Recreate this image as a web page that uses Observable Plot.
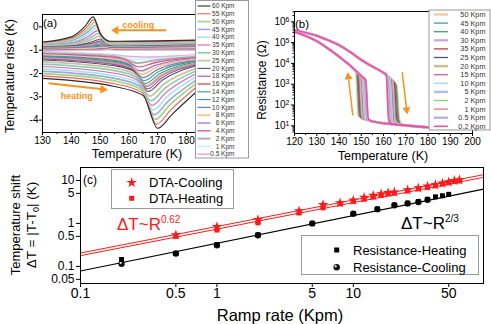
<!DOCTYPE html>
<html>
<head>
<meta charset="utf-8">
<script src="https://cdn.jsdelivr.net/npm/d3@7"></script>
<script src="https://cdn.jsdelivr.net/npm/@observablehq/plot@0.6"></script>
<style>
html,body{margin:0;padding:0;background:#fff;}
#fig{position:relative;width:491px;height:324px;overflow:hidden;background:#fff;color:#000;}
.p{position:absolute;}
</style>
</head>
<body>
<div id="fig"></div>
<script>
// ================= DATA =================
// ---- Panel (a): DTA temperature rise (K) vs temperature (K) ----
const ratesA = [60,55,50,45,40,35,30,25,20,18,16,14,12,10,8,6,4,2,1,0.5];
const colorsA = ["#2b2b2b","#f06060","#a8d88a","#a0a8e0","#a8e4ec","#d860c0","#90d0b0","#c8c4a0","#505070","#a050a0","#c89898","#30a070","#309898","#6f7fc8","#f8c890","#9878c8","#e05088","#b0b0b0","#c8f0f8","#e0b0e0"];
const widthsA = [1.1,1.1,1.8,1.6,1.6,1.1,1.8,1.8,1.1,1.1,2.2,1.1,1.1,1.3,2,1.3,1.3,2,1.6,1.6];
// heating branch: value at 130 K, at 155 K, 5 K before the dip minimum, dip minimum T and value, 5 K after, at 183.5 K
const heat130  = [-2.21,-2.10,-2.00,-1.90,-1.80,-1.70,-1.60,-1.50,-1.42,-1.38,-1.34,-1.31,-1.28,-1.25,-1.22,-1.19,-1.16,-1.13,-1.11,-1.09];
const heat155  = [-2.56,-2.44,-2.32,-2.21,-2.10,-1.99,-1.88,-1.77,-1.67,-1.62,-1.57,-1.53,-1.48,-1.44,-1.39,-1.35,-1.31,-1.26,-1.23,-1.20];
const heatOnV  = [-2.95,-2.82,-2.68,-2.55,-2.42,-2.29,-2.16,-2.03,-1.90,-1.84,-1.78,-1.72,-1.66,-1.60,-1.54,-1.48,-1.42,-1.36,-1.30,-1.24];
const heatMinT = [170.0,169.6,169.2,168.8,168.4,168.0,167.6,167.2,166.7,166.4,166.1,165.7,165.3,164.9,164.5,164.1,163.6,163.1,162.7,162.3];
const heatMinV = [-4.35,-4.17,-3.97,-3.77,-3.57,-3.37,-3.17,-2.97,-2.77,-2.66,-2.55,-2.43,-2.31,-2.18,-2.04,-1.89,-1.72,-1.55,-1.40,-1.28];
const heatRecV = [-3.75,-3.55,-3.35,-3.17,-2.98,-2.80,-2.62,-2.45,-2.28,-2.19,-2.10,-2.01,-1.92,-1.83,-1.74,-1.65,-1.55,-1.45,-1.37,-1.29];
const heatEnd  = [-2.78,-2.58,-2.42,-2.27,-2.13,-2.00,-1.88,-1.77,-1.67,-1.62,-1.57,-1.52,-1.48,-1.44,-1.40,-1.36,-1.32,-1.28,-1.24,-1.20];
// cooling branch: value at 130 K, 140 K, 3 K below peak, peak T and value, 2.5 K above, 6 K above, at 183.5 K
const cool130  = [-0.65,-0.67,-0.69,-0.71,-0.73,-0.75,-0.77,-0.79,-0.81,-0.83,-0.85,-0.87,-0.89,-0.91,-0.93,-0.95,-0.97,-0.99,-1.01,-1.03];
const cool140  = [-0.43,-0.48,-0.53,-0.58,-0.63,-0.67,-0.71,-0.75,-0.79,-0.81,-0.83,-0.85,-0.87,-0.89,-0.91,-0.93,-0.95,-0.97,-0.99,-1.01];
const coolShV  = [0.00,-0.08,-0.16,-0.24,-0.32,-0.40,-0.48,-0.56,-0.64,-0.69,-0.73,-0.77,-0.81,-0.85,-0.88,-0.91,-0.94,-0.96,-0.98,-1.00];
const coolPkT  = [147.6,147.9,148.2,148.5,148.8,149.1,149.5,149.9,150.3,150.5,150.7,150.9,151.1,151.3,151.6,151.9,152.2,152.5,152.8,153.0];
const coolPkV  = [0.43,0.31,0.19,0.07,-0.04,-0.16,-0.28,-0.40,-0.52,-0.60,-0.66,-0.72,-0.77,-0.81,-0.85,-0.88,-0.91,-0.93,-0.95,-0.97];
const coolFall = [-0.30,-0.36,-0.42,-0.48,-0.54,-0.60,-0.66,-0.71,-0.76,-0.79,-0.82,-0.84,-0.86,-0.88,-0.90,-0.92,-0.94,-0.96,-0.98,-1.00];
const coolBase = [-0.62,-0.64,-0.66,-0.68,-0.70,-0.72,-0.74,-0.76,-0.78,-0.80,-0.82,-0.84,-0.86,-0.88,-0.90,-0.92,-0.94,-0.96,-0.98,-1.00];
const coolEnd  = [-0.57,-0.59,-0.61,-0.63,-0.65,-0.67,-0.69,-0.71,-0.73,-0.75,-0.77,-0.79,-0.81,-0.84,-0.87,-0.90,-0.93,-0.96,-0.98,-1.00];
const xTicksA = [130,140,150,160,170,180];
const xMinorA = [135,145,155,165,175];
const yTicksA = [-4,-3,-2,-1,0];

// ---- Panel (b): resistance (log10 ohm) vs temperature ----
const ratesB = [50,45,40,30,35,25,20,15,10,5,2,1,0.5,0.2];
const colorsB = ["#f8c49a","#30a8a0","#40a070","#c8a8d8","#b84050","#505088","#c8c098","#d060b8","#a8e0e8","#b0c0e8","#90d070","#f07070","#c0b0e0","#ff4898"];
const widthsB = [2.2,1.3,1.3,2.2,1.3,1.3,2.5,1.3,1.6,2.5,1.4,1.3,2.5,1.5];
const heatInsT   = [120,125,130,135,140,145,150,155,158,160,161,162,163,164,165,166,167];
const heatInsLog = [5.6,5.48,5.33,5.12,4.88,4.55,4.17,3.85,3.68,3.55,3.47,3.38,3.28,3.17,3.05,2.92,2.78];
const coolInsT   = [120,125,130,135,140,143,145,146,147,148,149,150,151,152,153];
const coolInsLog = [5.52,5.32,5.07,4.72,4.33,4.07,3.9,3.8,3.7,3.6,3.5,3.4,3.3,3.2,3.1];
const metT   = [147,148,149,150,151,152,153,154,155,156,158,160,162,163,164,165,166,167,168,169,170,175,180,190,200];
const metLog = [1.45,1.42,1.39,1.36,1.33,1.3,1.27,1.24,1.21,1.19,1.15,1.12,1.1,1.09,1.08,1.07,1.06,1.05,1.04,1.03,1.02,0.97,0.93,0.9,0.88];
const heatMidT   = [166.5,166.2,165.9,165.2,165.5,164.9,164.5,164.0,163.5,163.0,162.5,162.2,162.0,161.8];
const heatTopLog = [2.93,2.97,3.01,3.1,3.06,3.13,3.18,3.24,3.29,3.34,3.39,3.42,3.43,3.45];
const heatBotLog = [1.3,1.3,1.3,1.29,1.29,1.28,1.28,1.27,1.26,1.25,1.24,1.23,1.22,1.22];
const coolMidT   = [148.2,148.5,148.8,149.3,149.0,149.6,150.0,150.5,151.0,151.5,152.0,152.2,152.4,152.6];
const coolTopLog = [3.64,3.61,3.58,3.53,3.56,3.5,3.46,3.41,3.36,3.31,3.26,3.24,3.22,3.2];
const coolBotLog = [1.5,1.49,1.48,1.46,1.47,1.45,1.44,1.42,1.4,1.38,1.36,1.35,1.34,1.33];
const xTicksB = [120,130,140,150,160,170,180,190,200];
const xMinorB = [125,135,145,155,165,175,185,195];
const yTicksB = [1e1,1e2,1e3,1e4,1e5,1e6];

// ---- Panel (c): temperature shift vs ramp rate ----
const dtaRates = [0.5,1,2,4,6,8,10,12,14,16,18,20,25,30,35,40,45,50,55,60];
const dtaCool  = [0.54,0.84,1.22,1.95,2.72,3.0,3.45,4.0,4.45,4.85,5.15,5.35,6.0,6.7,7.3,7.95,8.6,9.2,9.9,10.3];
const dtaHeat  = [0.5,0.7,1.03,1.75,2.3,2.85,3.25,3.65,4.1,4.5,4.85,5.05,5.7,6.35,6.9,7.5,8.2,8.8,9.4,9.7];
const resHeatRates = [0.2,0.5,1,2,5,10,15,20,25,30,35,40,45,50];
const resHeat      = [0.145,0.2,0.32,0.54,1.0,1.7,2.15,2.65,2.95,3.2,3.6,4.15,4.4,4.75];
const resCoolRates = [0.2,0.5,1,2,5,10,15,20,25,30,35];
const resCool      = [0.115,0.2,0.31,0.53,1.0,1.68,2.15,2.65,2.9,3.15,3.55];
const fitRates   = [0.1, 90];
const fitDtaCool = [0.205, 13.6];
const fitDtaHeat = [0.178, 11.8];
const fitRes     = [0.078, 6.3];
const xTicksC = [0.1,0.5,1,5,10,50];
const yTicksC = [0.05,0.1,0.5,1,5,10];

// ================= DRAWING =================
const FONT = '"Liberation Sans", Arial, Helvetica, sans-serif';
const ORANGE = "#f7941d";
const fig = document.getElementById("fig");
function place(el, left, top) {
  const d = document.createElement("div");
  d.className = "p"; d.style.left = left + "px"; d.style.top = top + "px";
  d.appendChild(el); fig.appendChild(d);
}
const baseStyle = (fs) => ({fontFamily: FONT, fontSize: fs, background: "transparent", overflow: "visible", color: "#000"});

// ---- (a) ----
const curvesA = [];
for (let i = ratesA.length - 1; i >= 0; i--) {
  const c = [[130,cool130[i]],[140,cool140[i]],[coolPkT[i]-3,coolShV[i]],[coolPkT[i],coolPkV[i]],
             [coolPkT[i]+2.5,coolFall[i]],[coolPkT[i]+6,coolBase[i]],[183.5,coolEnd[i]]].map(([T,v]) => ({T,v}));
  curvesA.push(Plot.line(c, {x:"T", y:"v", stroke: colorsA[i], strokeWidth: widthsA[i], curve:"monotone-x"}));
}
for (let i = ratesA.length - 1; i >= 0; i--) {
  const h = [[130,heat130[i]],[155,heat155[i]],[heatMinT[i]-5,heatOnV[i]],[heatMinT[i],heatMinV[i]],
             [heatMinT[i]+5,heatRecV[i]],[183.5,heatEnd[i]]].map(([T,v]) => ({T,v}));
  curvesA.push(Plot.line(h, {x:"T", y:"v", stroke: colorsA[i], strokeWidth: widthsA[i], curve:"monotone-x"}));
}
const arrowsA = [
  {x1:173, y1:-0.15, x2:155.5, y2:-0.15, rot:-90},
  {x1:132.1, y1:-2.42, x2:151.0, y2:-2.68, rot:96}
];
const labelsA = [
  {x:163.3, y:0.07, t:"cooling"},
  {x:141.9, y:-2.95, t:"heating"}
];
const plotA = Plot.plot({
  width: 200, height: 160,
  marginLeft: 42, marginRight: 4, marginTop: 14, marginBottom: 28,
  x: {domain: [130, 183.5]},
  y: {domain: [-4.53, 0.53]},
  style: baseStyle("10px"),
  marks: [
    ...curvesA,
    Plot.link(arrowsA, {x1:"x1", y1:"y1", x2:"x2", y2:"y2", stroke: ORANGE, strokeWidth: 2}),
    Plot.dot(arrowsA, {x:"x2", y:"y2", symbol:"triangle", fill: ORANGE, r: 3.2, rotate: "rot"}),
    Plot.text(labelsA, {x:"x", y:"y", text:"t", fill: ORANGE, fontWeight:"bold", fontSize: 9}),
    Plot.axisX({ticks: xTicksA, tickSize: 3, tickPadding: 1, label: null, tickFormat: d => String(d)}),
    Plot.axisX({ticks: xMinorA, tickSize: 2, label: null, tickFormat: () => ""}),
    Plot.axisY({ticks: yTicksA, tickSize: 3, tickPadding: 1, label: null, tickFormat: d => String(d)}),
    Plot.frame({stroke: "#000"})
  ]
});
place(plotA, 0, 0);

// ---- (b) ----
const curvesB = [];
ratesB.forEach((r, i) => {
  const h = [];
  heatInsT.forEach((T, k) => { if (T < heatMidT[i] - 1.2) h.push({T, v: 10 ** heatInsLog[k]}); });
  h.push({T: heatMidT[i] - 0.6, v: 10 ** heatTopLog[i]});
  h.push({T: heatMidT[i] + 0.6, v: 10 ** heatBotLog[i]});
  metT.forEach((T, k) => { if (T > heatMidT[i] + 1.5) h.push({T, v: 10 ** metLog[k]}); });
  const c = [];
  coolInsT.forEach((T, k) => { if (T < coolMidT[i] - 1.2) c.push({T, v: 10 ** coolInsLog[k]}); });
  c.push({T: coolMidT[i] - 0.6, v: 10 ** coolTopLog[i]});
  c.push({T: coolMidT[i] + 0.6, v: 10 ** coolBotLog[i]});
  metT.forEach((T, k) => { if (T > coolMidT[i] + 1.5) c.push({T, v: 10 ** metLog[k]}); });
  curvesB.push(Plot.line(h, {x:"T", y:"v", stroke: colorsB[i], strokeWidth: widthsB[i], curve:"monotone-x"}));
  curvesB.push(Plot.line(c, {x:"T", y:"v", stroke: colorsB[i], strokeWidth: widthsB[i], curve:"monotone-x"}));
});
const yMinorB = [];
for (let e = 0; e <= 6; e++) for (let m = 2; m <= 9; m++) { const v = m * 10 ** e; if (v > 4.3 && v < 3.1e6) yMinorB.push(v); }
const arrowsB = [
  {x1:146.2, y1:10 ** 1.5, x2:144.2, y2:10 ** 3.35, rot:-7},
  {x1:168.4, y1:10 ** 3.58, x2:170.4, y2:10 ** 1.78, rot:171}
];
const fwB = 240 - 44 - 18;
const plotB = Plot.plot({
  width: 240, height: 160,
  marginLeft: 44, marginRight: 18, marginTop: 11, marginBottom: 27,
  x: {domain: [120, 200]},
  y: {type: "log", domain: [10 ** 0.63, 10 ** 6.495], axis: null},
  style: baseStyle("10px"),
  marks: [
    ...curvesB,
    Plot.link(arrowsB, {x1:"x1", y1:"y1", x2:"x2", y2:"y2", stroke: ORANGE, strokeWidth: 1.5}),
    Plot.dot(arrowsB, {x:"x2", y:"y2", symbol:"triangle", fill: ORANGE, r: 3, rotate: "rot"}),
    Plot.axisX({ticks: xTicksB, tickSize: 3, tickPadding: 1, label: null, tickFormat: d => String(d)}),
    Plot.axisX({ticks: xMinorB, tickSize: 2, label: null, tickFormat: () => ""}),
    Plot.tickY(yTicksB, {y: d => d, insetRight: fwB - 3, dx: -3, stroke: "#000"}),
    Plot.tickY(yMinorB, {y: d => d, insetRight: fwB - 1.5, dx: -1.5, stroke: "#000"}),
    Plot.text(yTicksB, {y: d => d, frameAnchor: "left", dx: -5, textAnchor: "end", text: d => "10^" + Math.round(Math.log10(d)), fontSize: 10}),
    Plot.frame({stroke: "#000"})
  ]
});
d3.select(plotB).selectAll("text").each(function() {
  const s = this.textContent;
  if (!/^10\^\d$/.test(s)) return;
  const [b, e] = s.split("^");
  const t = d3.select(this); t.text("");
  t.append("tspan").text(b);
  t.append("tspan").attr("dy", "-0.45em").attr("font-size", "7px").text(e);
});
place(plotB, 250, 0);

// ---- (c) ----
const rowsDC = dtaRates.map((r, i) => ({r, v: dtaCool[i]}));
const rowsDH = dtaRates.map((r, i) => ({r, v: dtaHeat[i]}));
const rowsRH = resHeatRates.map((r, i) => ({r, v: resHeat[i]}));
const rowsRC = resCoolRates.map((r, i) => ({r, v: resCool[i]}));
const fitRow = (arr) => fitRates.map((r, i) => ({r, v: arr[i]}));
const fwC = 491 - 80 - 8, fhC = 164 - 7 - 41;
const plotC = Plot.plot({
  width: 491, height: 164,
  marginLeft: 80, marginRight: 8, marginTop: 7, marginBottom: 41,
  x: {type: "log", domain: [0.1, 90], axis: null},
  y: {type: "log", domain: [0.04, 20], axis: null},
  style: baseStyle("12px"),
  marks: [
    Plot.line(fitRow(fitDtaCool), {x:"r", y:"v", stroke:"#ff1a1a", strokeWidth: 1}),
    Plot.line(fitRow(fitDtaHeat), {x:"r", y:"v", stroke:"#ff1a1a", strokeWidth: 1}),
    Plot.line(fitRow(fitRes), {x:"r", y:"v", stroke:"#000", strokeWidth: 1.2}),
    Plot.dot(rowsDH, {x:"r", y:"v", symbol:"square", fill:"#ff1a1a", r: 2.8}),
    Plot.dot(rowsDC, {x:"r", y:"v", symbol:"star", fill:"#ff1a1a", r: 3.3}),
    Plot.dot(rowsRC, {x:"r", y:"v", symbol:"circle", fill:"#111", r: 3.2}),
    Plot.dot(rowsRC, {x:"r", y:"v", symbol:"circle", fill:"#fff", r: 1.1, dx: -1, dy: -1}),
    Plot.dot(rowsRH, {x:"r", y:"v", symbol:"square", fill:"#000", r: 2.8}),
    Plot.tickX(xTicksC, {x: d => d, insetTop: fhC - 4, dy: 4, stroke: "#000"}),
    Plot.text(xTicksC, {x: d => d, frameAnchor: "bottom", lineAnchor: "top", dy: 5, text: d => String(d), fontSize: 14}),
    Plot.tickY(yTicksC, {y: d => d, insetRight: fwC - 4, dx: -4, stroke: "#000"}),
    Plot.text(yTicksC, {y: d => d, frameAnchor: "left", dx: -6, textAnchor: "end", text: d => String(d), fontSize: 12}),
    Plot.frame({stroke: "#000"})
  ]
});
place(plotC, 0, 160);

// ---- overlay: legends, titles, panel labels ----
const ov = d3.create("svg").attr("width", 491).attr("height", 324)
  .style("position", "absolute").style("left", "0px").style("top", "0px")
  .style("font-family", FONT);

// legend (a)
const gA = ov.append("g");
gA.append("rect").attr("x", 195.5).attr("y", 0.5).attr("width", 53).attr("height", 157.5)
  .attr("fill", "#fff").attr("stroke", "#999");
ratesA.forEach((r, i) => {
  const y = 6 + i * 7.8;
  gA.append("line").attr("x1", 197.5).attr("x2", 210.5).attr("y1", y).attr("y2", y)
    .attr("stroke", colorsA[i]).attr("stroke-width", widthsA[i]);
  gA.append("text").attr("x", 234.5).attr("y", y).attr("dy", "0.35em").attr("text-anchor", "end")
    .attr("font-size", 6.5).attr("fill", "#333").text(r + " Kpm");
});
// legend (b)
const gB = ov.append("g");
gB.append("rect").attr("x", 429).attr("y", 10).attr("width", 61).attr("height", 120)
  .attr("fill", "#fff").attr("stroke", "#999");
ratesB.forEach((r, i) => {
  const y = 14.5 + i * 8.6;
  gB.append("line").attr("x1", 434).attr("x2", 448).attr("y1", y).attr("y2", y)
    .attr("stroke", colorsB[i]).attr("stroke-width", widthsB[i]);
  gB.append("text").attr("x", 485.5).attr("y", y).attr("dy", "0.35em").attr("text-anchor", "end")
    .attr("font-size", 7.3).attr("fill", "#333").text(r + " Kpm");
});
// legends (c)
const sym = (type, size) => d3.symbol().type(type).size(size)();
const gC = ov.append("g");
gC.append("rect").attr("x", 111.5).attr("y", 169.5).attr("width", 122).attr("height", 39)
  .attr("fill", "#fff").attr("stroke", "#999");
gC.append("path").attr("d", sym(d3.symbolStar, 34)).attr("transform", "translate(131.7,182.7)").attr("fill", "#ff1a1a");
gC.append("path").attr("d", sym(d3.symbolSquare, 25)).attr("transform", "translate(131.7,198.3)").attr("fill", "#ff1a1a");
gC.append("text").attr("x", 149).attr("y", 182.7).attr("dy", "0.35em").attr("font-size", 13).text("DTA-Cooling");
gC.append("text").attr("x", 149).attr("y", 198.3).attr("dy", "0.35em").attr("font-size", 13).text("DTA-Heating");
gC.append("rect").attr("x", 301.5).attr("y", 235.5).attr("width", 177).attr("height", 39)
  .attr("fill", "#fff").attr("stroke", "#999");
gC.append("path").attr("d", sym(d3.symbolSquare, 25)).attr("transform", "translate(336.7,250)").attr("fill", "#000");
gC.append("circle").attr("cx", 336.7).attr("cy", 267.3).attr("r", 3.2).attr("fill", "#111");
gC.append("circle").attr("cx", 335.7).attr("cy", 266.3).attr("r", 1.1).attr("fill", "#fff");
gC.append("text").attr("x", 353).attr("y", 250).attr("dy", "0.35em").attr("font-size", 13).text("Resistance-Heating");
gC.append("text").attr("x", 353).attr("y", 267.3).attr("dy", "0.35em").attr("font-size", 13).text("Resistance-Cooling");

// scaling-law annotations
const law1 = ov.append("text").attr("x", 117).attr("y", 230).attr("font-size", 17).attr("fill", "#ff1a1a");
law1.append("tspan").text("ΔT~R");
law1.append("tspan").attr("dy", -7).attr("font-size", 10).text("0.62");
const law2 = ov.append("text").attr("x", 401).attr("y", 228.5).attr("font-size", 17).attr("fill", "#000");
law2.append("tspan").text("ΔT~R");
law2.append("tspan").attr("dy", -7).attr("font-size", 10).text("2/3");

// panel labels
ov.append("text").attr("x", 43).attr("y", 27).attr("font-size", 11.5).text("(a)");
ov.append("text").attr("x", 295).attr("y", 27.5).attr("font-size", 11.5).text("(b)");
ov.append("text").attr("x", 83).attr("y", 184).attr("font-size", 12).text("(c)");

// axis titles
ov.append("text").attr("x", 137).attr("y", 157.5).attr("text-anchor", "middle").attr("font-size", 12.5).text("Temperature (K)");
ov.append("text").attr("transform", "translate(10,76) rotate(-90)").attr("dy", "0.35em").attr("text-anchor", "middle").attr("font-size", 12.5).text("Temperature rise (K)");
ov.append("text").attr("x", 383).attr("y", 159.5).attr("text-anchor", "middle").attr("font-size", 12.5).text("Temperature (K)");
ov.append("text").attr("transform", "translate(262,80) rotate(-90)").attr("dy", "0.35em").attr("text-anchor", "middle").attr("font-size", 12).text("Resistance (Ω)");
ov.append("text").attr("x", 280).attr("y", 321).attr("text-anchor", "middle").attr("font-size", 16.5).text("Ramp rate (Kpm)");
ov.append("text").attr("transform", "translate(15,225) rotate(-90)").attr("dy", "0.35em").attr("text-anchor", "middle").attr("font-size", 13).text("Temperature shift");
const yt = ov.append("text").attr("transform", "translate(31.5,225) rotate(-90)").attr("dy", "0.35em").attr("text-anchor", "middle").attr("font-size", 13.5);
yt.append("tspan").text("ΔT = |T-T");
yt.append("tspan").attr("dy", 3).attr("font-size", 9).text("0");
yt.append("tspan").attr("dy", -3).text("| (K)");

fig.appendChild(ov.node());
</script>
</body>
</html>
